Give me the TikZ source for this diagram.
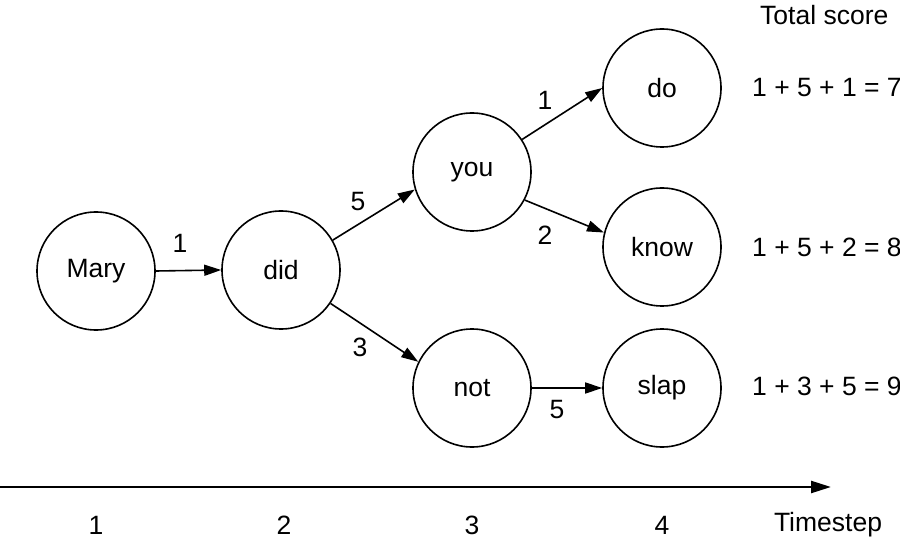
\documentclass[tikz,border=0pt]{standalone}
\usepackage{fontspec}
\setmainfont{Liberation Sans}
\usetikzlibrary{arrows.meta}
\begin{document}
\begin{tikzpicture}[x=1pt,y=-1pt,
  word/.style={circle,draw,line width=1.6pt,minimum size=118pt,inner sep=0pt,font=\fontsize{26.5}{30}\selectfont},
  lbl/.style={font=\fontsize{26.5}{30}\selectfont,inner sep=0pt},
  link/.style={line width=1.6pt,-{Triangle[length=17pt,width=11pt]}}]
\useasboundingbox (0,0) rectangle (900,548);
\node[word] (mary) at (96,271) {Mary};
\node[word] (did) at (281,270) {did};
\node[word] (you) at (472,172) {you};
\node[word] (not) at (472,388) {not};
\node[word] (do) at (662,88) {do};
\node[word] (know) at (662,247) {know};
\node[word] (slap) at (662,388) {slap};
\draw[link] (mary.0) -- (did.180);
\draw[link] (did.30) -- (you.-163);
\draw[link] (did.-34) -- (not.154);
\draw[link] (you.33) -- (do.180);
\draw[link] (you.-28) -- (know.166);
\draw[link] (not.0) -- (slap.180);
\node[lbl] (l1) at (180,243) {1};
\node[lbl] (l2) at (358,202) {5};
\node[lbl] (l3) at (360,347) {3};
\node[lbl] (l4) at (545,100) {1};
\node[lbl] (l5) at (545,235) {2};
\node[lbl] (l6) at (557,410) {5};
\node[lbl,anchor=west] (ts) at (760,15) {Total score};
\node[lbl,anchor=west] (s1) at (752,88) {1 + 5 + 1 = 7};
\node[lbl,anchor=west] (s2) at (752,247) {1 + 5 + 2 = 8};
\node[lbl,anchor=west] (s3) at (752,386) {1 + 3 + 5 = 9};
\coordinate (a0) at (0,487);
\coordinate (a1) at (831,487);
\draw[line width=2.4pt,-{Triangle[length=20pt,width=12pt]}] (a0) -- (a1);
\node[lbl] (t1) at (96,525) {1};
\node[lbl] (t2) at (284,525) {2};
\node[lbl] (t3) at (472,525) {3};
\node[lbl] (t4) at (662,525) {4};
\node[lbl] (t5) at (828,525) {Timestep};
\end{tikzpicture}
\end{document}
